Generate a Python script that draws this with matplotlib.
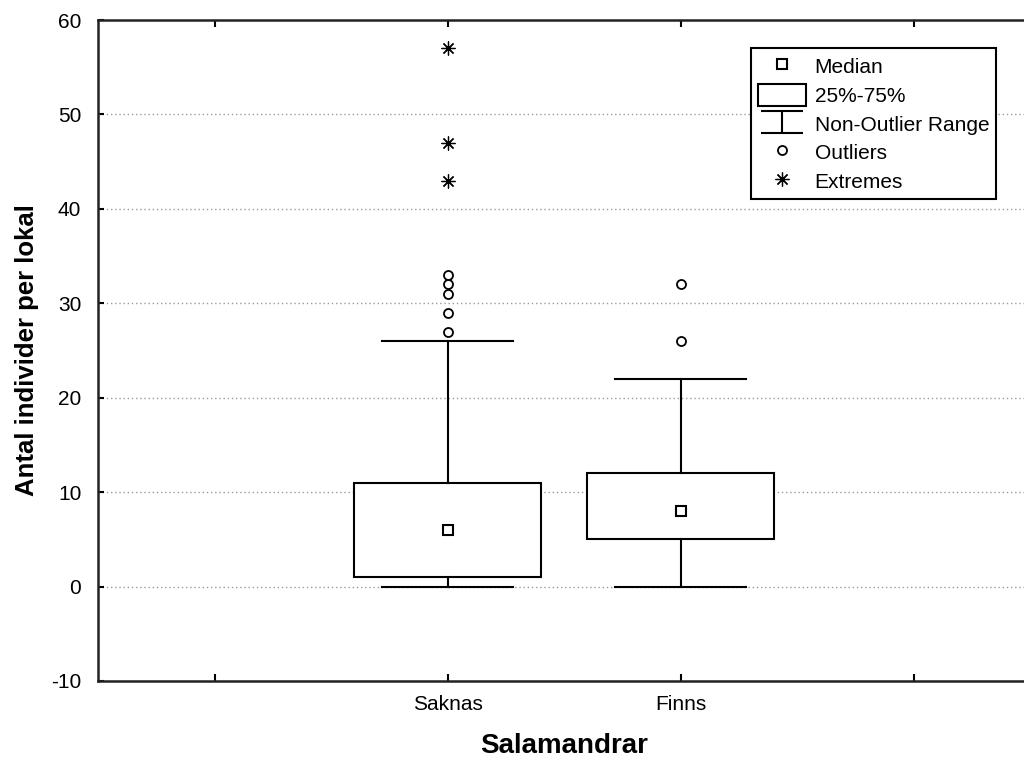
import matplotlib
matplotlib.use('Agg')
import matplotlib.pyplot as plt
from matplotlib.path import Path
from matplotlib.lines import Line2D
from matplotlib.patches import Patch

plt.rcParams['font.family'] = ['Liberation Sans', 'DejaVu Sans']
plt.rcParams['axes.unicode_minus'] = False

# data
grupper = ['Saknas', 'Finns']
positioner = [1, 2]
median = [6, 8]
q1 = [1, 5]
q3 = [11, 12]
min_varde = [0, 0]
max_varde = [26, 22]
outliers = [[27, 29, 31, 32, 33], [26, 32]]
extremes = [[43, 47, 57], []]
xticks = [0, 1, 2, 3]
xtick_etiketter = ['', 'Saknas', 'Finns', '']
yticks = [-10, 0, 10, 20, 30, 40, 50, 60]

fig = plt.figure(figsize=(10.24, 7.64), dpi=100)
ax = fig.add_axes([98 / 1024, 83 / 764, 932 / 1024, 661 / 764])

stats = []
for i in range(len(grupper)):
    stats.append(dict(med=median[i], q1=q1[i], q3=q3[i],
                      whislo=min_varde[i], whishi=max_varde[i],
                      fliers=[], label=grupper[i]))

lw = 1.5
ax.bxp(stats, positions=positioner, widths=0.8, capwidths=0.56,
       showfliers=False, patch_artist=True,
       boxprops=dict(facecolor='white', edgecolor='black', linewidth=lw),
       whiskerprops=dict(color='black', linewidth=lw),
       capprops=dict(color='black', linewidth=lw),
       medianprops=dict(linewidth=0), zorder=3)

ax.plot(positioner, median, linestyle='none', marker='s', markersize=7.5,
        mfc='white', mec='black', mew=1.5, zorder=4)

asterisk = (8, 2, 0)
for p, o, e in zip(positioner, outliers, extremes):
    ax.plot([p] * len(o), o, linestyle='none', marker='o', markersize=6.5,
            mfc='white', mec='black', mew=1.3, zorder=4)
    ax.plot([p] * len(e), e, linestyle='none', marker=asterisk, markersize=10,
            color='black', mew=0.9, zorder=4)

ax.set_xlim(-0.5, 3.5)
ax.set_ylim(-10, 60)
ax.set_xticks(xticks)
ax.set_xticklabels(xtick_etiketter, fontsize=15)
ax.set_yticks(yticks)
ax.tick_params(axis='y', labelsize=15, direction='in', length=4, width=1.5,
               pad=12, right=False)
ax.tick_params(axis='x', direction='in', length=5, width=1.5, pad=10, top=True)

ax.set_axisbelow(True)
ax.yaxis.grid(True, linestyle=(0, (1, 2)), color='#9a9a9a', linewidth=1)

for s in ['left', 'bottom', 'top']:
    ax.spines[s].set_linewidth(1.8)
    ax.spines[s].set_color('#222222')
ax.spines['right'].set_visible(False)

ax.set_ylabel('Antal individer per lokal', fontsize=18.5, fontweight='bold',
              labelpad=9)
ax.set_xlabel('Salamandrar', fontsize=20, fontweight='bold', labelpad=14)

# legend
ibeam = Path([(-1, 0.55), (1, 0.55), (0, 0.55), (0, -0.55), (-1, -0.55), (1, -0.55)],
             [Path.MOVETO, Path.LINETO, Path.MOVETO, Path.LINETO, Path.MOVETO, Path.LINETO])
handles = [
    Line2D([], [], linestyle='none', marker='s', markersize=7.5, mfc='white',
           mec='black', mew=1.5),
    Patch(facecolor='white', edgecolor='black', linewidth=1.5),
    Line2D([], [], linestyle='none', marker=ibeam, markersize=30, color='black',
           mew=1.5, fillstyle='none'),
    Line2D([], [], linestyle='none', marker='o', markersize=6.5, mfc='white',
           mec='black', mew=1.3),
    Line2D([], [], linestyle='none', marker=asterisk, markersize=10,
           color='black', mew=0.9),
]
etiketter = ['Median', '25%-75%', 'Non-Outlier Range', 'Outliers', 'Extremes']
leg = ax.legend(handles, etiketter, loc='upper left', bbox_to_anchor=(0.7006, 0.9576),
                fontsize=15, frameon=True, fancybox=False, edgecolor='black',
                framealpha=1, handlelength=2.3, handleheight=1.25,
                handletextpad=0.4, labelspacing=0.32, borderpad=0.35,
                borderaxespad=0)
leg.get_frame().set_linewidth(1.5)

fig.savefig('out.png', dpi=100)
